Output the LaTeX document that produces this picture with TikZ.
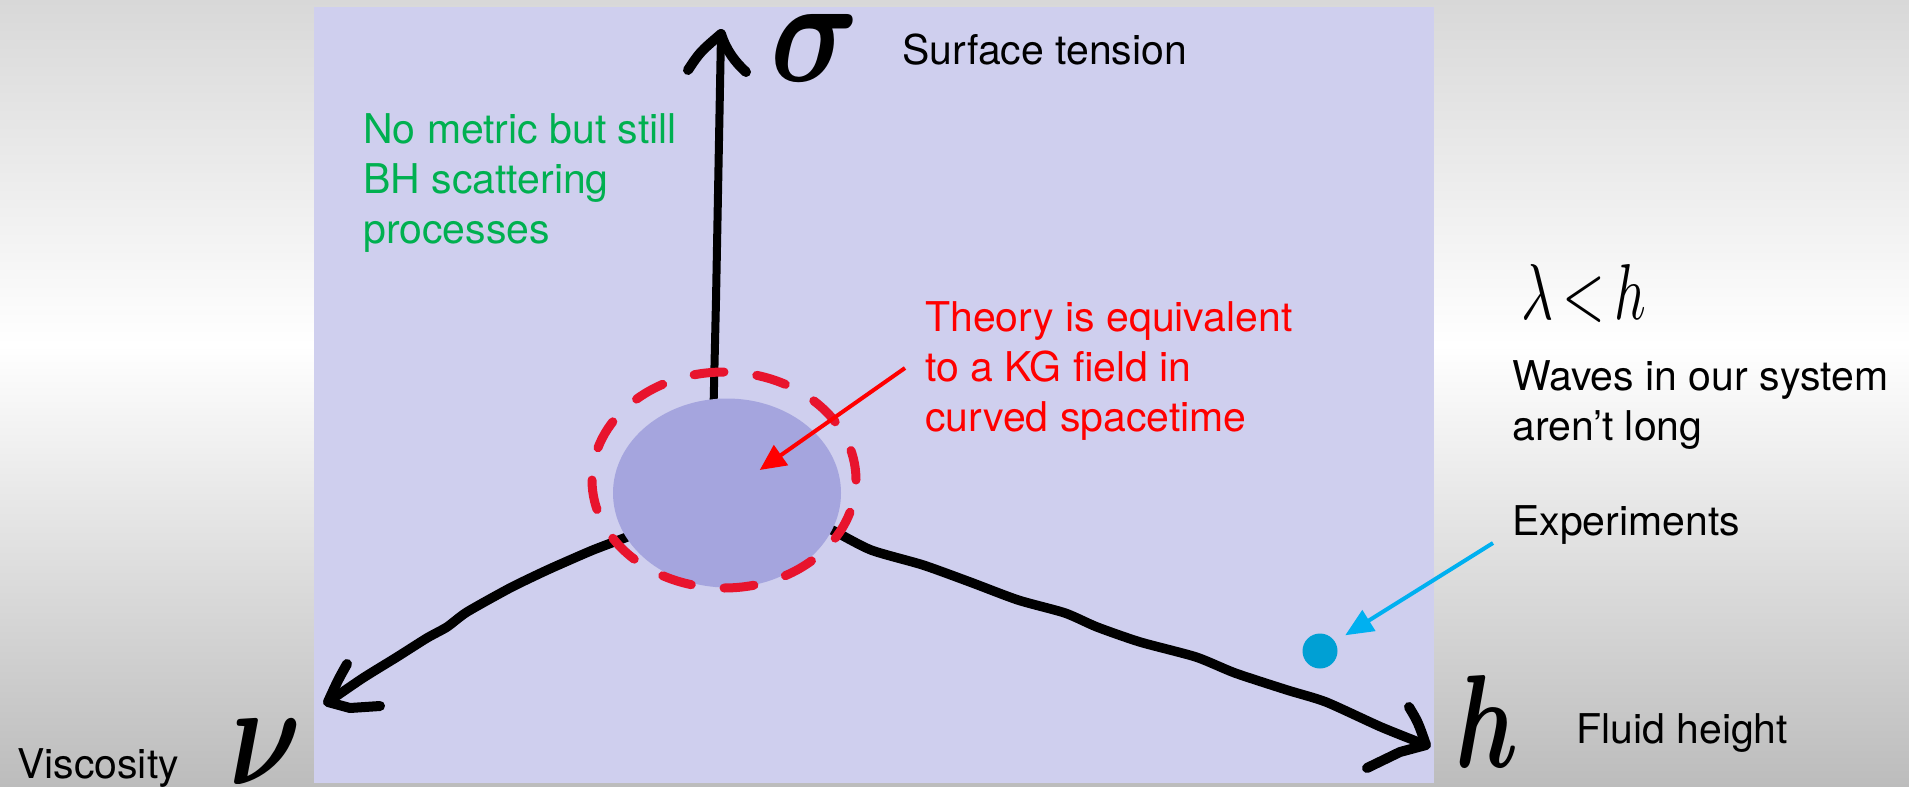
\documentclass[tikz,border=0pt]{standalone}
\usepackage{fontspec}
\setmainfont{TeX Gyre Heros}
\usepackage{graphicx}
\usetikzlibrary{shapes.geometric,arrows.meta,calc}
\definecolor{bgtop}{RGB}{216,216,216}
\definecolor{bgbot}{RGB}{188,188,188}
\definecolor{panel}{RGB}{207,207,238}
\definecolor{corefill}{RGB}{165,165,222}
\definecolor{ringred}{RGB}{232,20,45}
\definecolor{notegreen}{RGB}{0,176,80}
\definecolor{notered}{RGB}{255,0,0}
\definecolor{noteblue}{RGB}{0,176,240}
\definecolor{dotblue}{RGB}{0,160,212}
\begin{document}
\begin{tikzpicture}[x=1pt,y=-1pt,
  lbl/.style={inner sep=0pt, font=\fontsize{41}{50}\selectfont, anchor=base west, align=left},
  haxis/.style={line width=9.5pt, line cap=round, line join=round},
  ahead/.style={line width=10pt, line cap=round, line join=round},
  hand/.style={inner sep=0pt},
  pointer/.style={line width=4pt}]
\useasboundingbox (0,0) rectangle (1909,787);
% background
\shade[top color=bgtop, bottom color=white] (0,0) rectangle (1909,345);
\shade[top color=white, bottom color=bgbot] (0,345) rectangle (1909,787);
\fill[panel] (314,7) rectangle (1434,783);
% axis tips
\coordinate (tipS) at (721,34);
\coordinate (tipV) at (328,702);
\coordinate (tipH) at (1426,745);
% axes
\draw[haxis, line width=8pt] (713,430) -- (716,300) -- (tipS);
\draw[ahead] (688,70) .. controls (700,52) .. (tipS) .. controls (726,50) and (735,62) .. (746,72);
\draw[haxis] plot[smooth, tension=0.4] coordinates {(650,527) (627,537) (593,550) (563,563) (543,572) (510,588) (467,612) (447,627) (427,638) (397,657) (363,678) (tipV)};
\draw[ahead] (347,664) .. controls (338,680) .. (tipV) -- (350,708) -- (380,706);
\draw[haxis] plot[smooth, tension=0.4] coordinates {(805,518) (832,530) (871,550) (923,565) (970,582) (1018,600) (1065,613) (1097,627) (1140,642) (1196,657) (1235,673) (1287,690) (1326,702) (1381,727) (tipH)};
\draw[ahead] (1409,707) .. controls (1418,722) .. (tipH) -- (1400,752) -- (1367,768);
% core region
\node[ellipse, fill=corefill, minimum width=228pt, minimum height=189pt, inner sep=0pt] (core) at (727,493) {};
\node[ellipse, draw=ringred, line width=9pt, line cap=round, dash pattern=on 30pt off 33pt, minimum width=264pt, minimum height=216pt, inner sep=0pt] (ring) at (724,480) {};
% axis symbols
\node[hand] (sigma) at (815,48) {\resizebox{89pt}{67pt}{\boldmath$\sigma$}};
\node[hand] (nu) at (266,752) {\resizebox{72pt}{65pt}{\boldmath$\nu$}};
\node[hand] (hsym) at (1487,721) {\resizebox{63pt}{92pt}{\boldmath$h$}};
\node[hand] (lambda) at (1584,294) {\resizebox{125pt}{55pt}{$\lambda\,{<}\,h$}};
% labels (multi-line nodes are placed by the baseline of their last line)
\node[lbl] (surf) at (902,64) {Surface tension};
\node[lbl, text=notegreen] (nometric) at (363,243) {No metric but still\\BH scattering\\processes};
\node[lbl, text=notered] (theory) at (925,431) {Theory is equivalent\\to a KG field in\\curved spacetime};
\node[lbl] (waves) at (1512,440) {Waves in our system\\aren’t long};
\node[lbl] (exp) at (1512,535) {Experiments};
\node[lbl] (visc) at (17,778) {Viscosity};
\node[lbl] (fluid) at (1576,743) {Fluid height};
% experiment dot
\node[circle, fill=dotblue, minimum size=35pt, inner sep=0pt] (dot) at (1320,651) {};
% pointers
\coordinate (rstart) at ($(theory.base west)+(-20,-63)$);
\draw[pointer, draw=notered, -{Triangle[length=26pt,width=24pt]}] (rstart) -- ($(core.center)!40pt!(rstart)$);
\coordinate (bstart) at ($(exp.base west)+(-19,8)$);
\draw[pointer, draw=noteblue, shorten >=12pt, -{Triangle[length=28pt,width=24pt]}] (bstart) -- (dot);
\end{tikzpicture}
\end{document}
